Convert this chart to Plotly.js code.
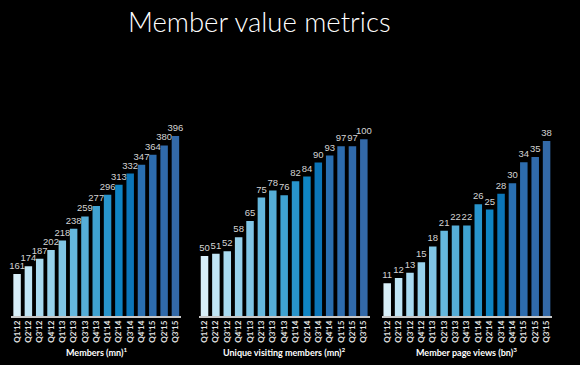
<!DOCTYPE html>
<html>
<head>
<meta charset="utf-8">
<script src="https://cdn.plot.ly/plotly-3.0.1.min.js"></script>
<style>html,body{margin:0;padding:0;background:#000;}#chart{width:580px;height:365px;}</style>
</head>
<body>
<div id="chart"></div>
<script>
const quarters = ["Q1'12","Q2'12","Q3'12","Q4'12","Q1'13","Q2'13","Q3'13","Q4'13","Q1'14","Q2'14","Q3'14","Q4'14","Q1'15","Q2'15","Q3'15"];
const members = [161,174,187,202,218,238,259,277,296,313,332,347,364,380,396];
const uniqueVisiting = [50,51,52,58,65,75,78,76,82,84,90,93,97,97,100];
const pageViews = [11,12,13,15,18,21,22,22,26,25,28,30,34,35,38];
const titles = ["Members (mn)<sup>1</sup>","Unique visiting members (mn)<sup>2</sup>","Member page views (bn)<sup>3</sup>"];
const barColors = ["#d8eff9","#c0e5f5","#a9daf0","#97d1eb","#80c5e5","#65b7dd","#55add7","#3fa2d1","#2894cb","#0f84c3","#0b75b8","#2a6fb1","#2d6cae","#306aab","#3369a8"];

const series = [members, uniqueVisiting, pageViews];
const ranges = [[89.4, 457.4],[24.3, 116.8],[4.8, 45.8]];
const xdomains = [[0.0197,0.3122],[0.3428,0.6371],[0.6578,0.9522]];
const ydom = [0.1342, 0.726];

const traces = series.map((vals, i) => ({
  type: 'bar',
  x: quarters,
  y: vals,
  xaxis: i === 0 ? 'x' : 'x' + (i + 1),
  yaxis: i === 0 ? 'y' : 'y' + (i + 1),
  marker: {color: barColors},
  text: vals.map(String),
  textposition: 'outside',
  constraintext: 'none',
  cliponaxis: false,
  textfont: {family: '"Liberation Sans Narrow", "Arial Narrow", sans-serif', size: 9.5, color: '#d4d4d4'},
  hoverinfo: 'none'
}));

const layout = {
  width: 580, height: 365,
  margin: {l: 0, r: 0, t: 0, b: 0},
  paper_bgcolor: '#000', plot_bgcolor: '#000',
  showlegend: false,
  bargap: 0.34,
  title: {text: 'Member value metrics', x: 0.447, xanchor: 'center', y: 0.94, yanchor: 'middle',
          font: {family: 'Lato, sans-serif', size: 27.5, color: '#ffffff', weight: 300}},
  annotations: titles.map((t, i) => ({
    text: t, xref: 'paper', yref: 'paper',
    x: (xdomains[i][0] + xdomains[i][1]) / 2, y: 0.036,
    xanchor: 'center', yanchor: 'middle', showarrow: false,
    font: {family: 'Lato, sans-serif', size: 9, color: '#ffffff', weight: 'bold'}
  }))
};

for (let i = 0; i < 3; i++) {
  const sx = i === 0 ? '' : String(i + 1);
  layout['xaxis' + sx] = {
    domain: xdomains[i], anchor: 'y' + sx, type: 'category',
    showline: true, linecolor: '#c8c8c8', linewidth: 1.5,
    showgrid: false, zeroline: false, ticks: '',
    tickangle: -90,
    tickfont: {family: 'Lato, sans-serif', size: 8, color: '#e6e6e6', weight: 'bold'},
    fixedrange: true
  };
  layout['yaxis' + sx] = {
    domain: ydom, anchor: 'x' + sx, range: ranges[i],
    visible: false, showgrid: false, zeroline: false, fixedrange: true
  };
}

Plotly.newPlot('chart', traces, layout, {displayModeBar: false, staticPlot: true});
</script>
</body>
</html>
